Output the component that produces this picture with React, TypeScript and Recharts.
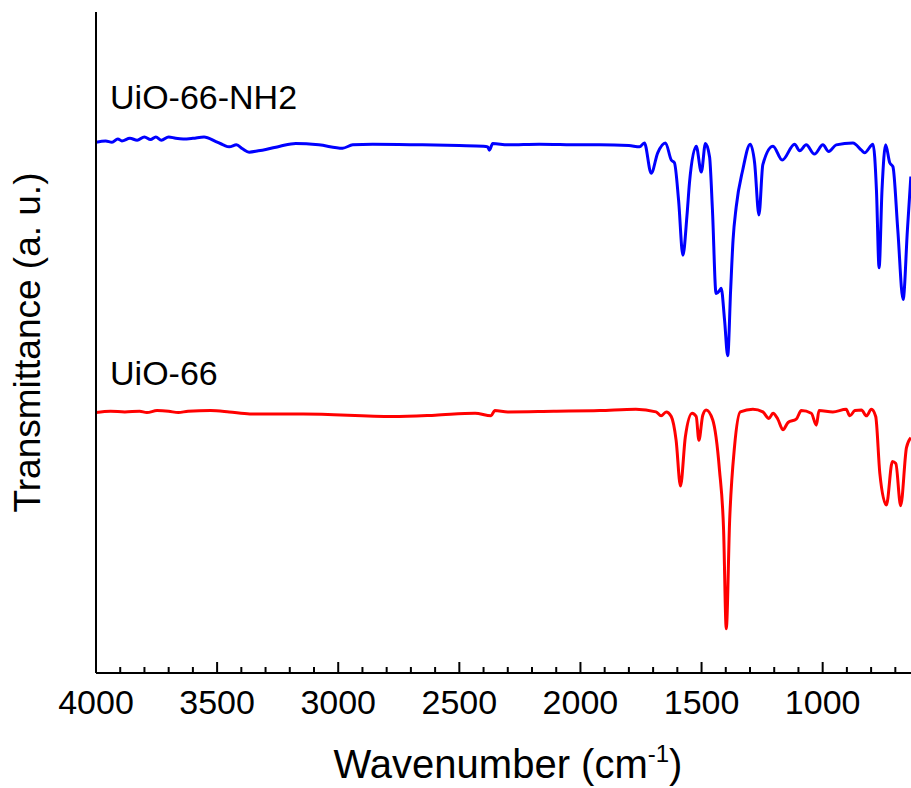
import React from "react";
import {
  LineChart,
  Line,
  XAxis,
  YAxis,
  ReferenceDot,
} from "recharts";

// FTIR spectra, wavenumber (cm-1) vs transmittance (arbitrary offset units)
const nh2Wavenumber = [
  4000, 3960, 3934, 3910, 3893, 3860, 3830, 3800, 3775, 3753, 3730, 3700, 3671,
  3640, 3600, 3554, 3505, 3475, 3450, 3420, 3395, 3368, 3330, 3299, 3240, 3175,
  3080, 2982, 2940, 2858, 2652, 2500, 2400, 2383, 2376, 2362, 2300, 2170, 2000,
  1921, 1800, 1756, 1736, 1708, 1681, 1649, 1625, 1612, 1595, 1577, 1560, 1550,
  1522, 1501, 1484, 1467, 1455, 1440, 1425, 1419, 1405, 1392, 1380, 1370, 1357,
  1330, 1299, 1281, 1263, 1247, 1205, 1167, 1116, 1095, 1068, 1034, 999, 975,
  944, 875, 840, 827, 792, 778, 767, 755, 740, 723, 710, 690, 668, 650, 636,
];
const nh2Transmittance = [
  80.3, 80.5, 80.3, 80.8, 80.5, 80.9, 80.6, 81.1, 80.7, 81.1, 80.6, 81.1, 80.9,
  80.8, 80.9, 81.1, 80.4, 79.9, 79.6, 79.9, 79.3, 78.8, 79.0, 79.2, 79.7, 80.1,
  79.9, 79.4, 79.9, 80.0, 79.9, 79.8, 79.7, 79.6, 79.1, 80.1, 79.9, 80.0, 79.9,
  79.9, 79.8, 79.6, 80.2, 75.6, 78.7, 80.2, 77.6, 77.2, 71.6, 63.2, 69.3, 74.1,
  79.7, 75.8, 80.1, 78.1, 70.0, 57.4, 57.9, 58.2, 53.4, 48.0, 57.9, 65.5, 70.5,
  76.1, 80.0, 77.2, 69.3, 76.9, 79.7, 77.6, 80.0, 79.0, 79.9, 78.5, 79.9, 78.9,
  79.9, 80.2, 79.1, 78.7, 80.0, 73.1, 61.3, 73.1, 79.9, 77.2, 76.6, 67.1, 56.5,
  67.1, 75.1,
];

const uioWavenumber = [
  4000, 3940, 3881, 3820, 3790, 3748, 3700, 3660, 3620, 3527, 3450, 3365, 3145,
  2775, 2600, 2435, 2369, 2354, 2300, 2111, 1921, 1771, 1688, 1667, 1646, 1625,
  1605, 1587, 1567, 1539, 1522, 1511, 1495, 1481, 1454, 1426, 1409, 1398, 1384,
  1364, 1340, 1288, 1247, 1222, 1205, 1185, 1164, 1143, 1109, 1088, 1047, 1026,
  1015, 958, 903, 888, 867, 840, 819, 799, 781, 764, 737, 712, 698, 678, 654, 636,
];
const uioTransmittance = [
  39.4, 39.6, 39.5, 39.6, 39.4, 39.7, 39.6, 39.4, 39.6, 39.7, 39.5, 39.2, 39.2,
  38.8, 39.0, 39.3, 38.9, 39.7, 39.5, 39.6, 39.7, 39.9, 39.5, 38.9, 39.5, 38.8,
  35.2, 28.3, 35.7, 39.3, 38.8, 35.2, 39.0, 39.8, 38.3, 30.7, 21.6, 6.7, 23.1,
  34.2, 39.5, 39.9, 39.5, 38.5, 39.3, 38.4, 36.8, 37.9, 38.4, 39.7, 39.3, 37.5,
  39.7, 39.5, 39.9, 38.9, 39.7, 39.8, 38.9, 39.9, 38.8, 30.2, 25.4, 32.0, 31.7,
  25.3, 34.1, 35.6,
];

// major every 500, minor every 100, down to the last one still in view
const xTicks = Array.from({ length: 34 }, (_, i) => 4000 - i * 100);

const nh2Data = nh2Wavenumber.map((wn, i) => ({ wn, t: nh2Transmittance[i] }));
const uioData = uioWavenumber.map((wn, i) => ({ wn, t: uioTransmittance[i] }));

const FONT = "Arial, 'Liberation Sans', Helvetica, sans-serif";

const WaveTick = (props: any) => {
  const { x, y, payload } = props;
  const major = payload.value % 500 === 0;
  return (
    <g>
      <line x1={x} x2={x} y1={y} y2={y - (major ? 11 : 6)} stroke="#000" strokeWidth={2} />
      {major && (
        <text x={x} y={y + 41} textAnchor="middle" fontSize={34} fontFamily={FONT} fill="#000">
          {payload.value}
        </text>
      )}
    </g>
  );
};

const XTitle = (props: any) => {
  const { viewBox } = props;
  return (
    <text x={viewBox.x + 412} y={viewBox.y + 105} textAnchor="middle" fontSize={40} fontFamily={FONT} fill="#000">
      Wavenumber (cm
      <tspan fontSize={24} dy={-16}>-1</tspan>
      <tspan dy={16}>)</tspan>
    </text>
  );
};

const YTitle = (props: any) => {
  const { viewBox } = props;
  const cx = viewBox.x + 27;
  const cy = viewBox.y + viewBox.height / 2;
  return (
    <text
      x={cx}
      y={cy}
      transform={`rotate(-90 ${cx} ${cy})`}
      textAnchor="middle"
      dominantBaseline="central"
      fontSize={37}
      fontFamily={FONT}
      fill="#000"
    >
      Transmittance (a. u.)
    </text>
  );
};

const seriesLabel = (text: string) => (props: any) => {
  const { viewBox } = props;
  return (
    <text x={viewBox.x} y={viewBox.y} fontSize={34} fontFamily={FONT} fill="#000">
      {text}
    </text>
  );
};

export default function App() {
  return (
    <div
      style={{
        position: "fixed",
        left: 0,
        top: 0,
        width: 911,
        height: 788,
        overflow: "hidden",
        background: "#fff",
      }}
    >
      <LineChart width={1000} height={788} margin={{ top: 12, right: 32, bottom: 0, left: 0 }}>
        <XAxis
          dataKey="wn"
          type="number"
          domain={[400, 4000]}
          reversed
          allowDataOverflow
          ticks={xTicks}
          interval={0}
          tick={<WaveTick />}
          tickLine={false}
          tickSize={0}
          tickMargin={0}
          height={115}
          axisLine={{ stroke: "#000", strokeWidth: 2 }}
          label={{ content: XTitle }}
        />
        <XAxis
          xAxisId="top"
          orientation="top"
          type="number"
          domain={[400, 4000]}
          reversed
          tick={false}
          tickLine={false}
          height={0}
          axisLine={{ stroke: "#000", strokeWidth: 2 }}
        />
        <YAxis
          type="number"
          domain={[0, 100]}
          width={96}
          tick={false}
          tickLine={false}
          axisLine={{ stroke: "#000", strokeWidth: 2 }}
          label={{ content: YTitle }}
        />
        <Line
          data={nh2Data}
          dataKey="t"
          type="monotone"
          stroke="#0000FF"
          strokeWidth={3}
          dot={false}
          isAnimationActive={false}
        />
        <Line
          data={uioData}
          dataKey="t"
          type="monotone"
          stroke="#FF0000"
          strokeWidth={3}
          dot={false}
          isAnimationActive={false}
        />
        <ReferenceDot x={3942} y={85.3} r={0} fill="none" stroke="none" label={{ content: seriesLabel("UiO-66-NH2") }} />
        <ReferenceDot x={3942} y={43.6} r={0} fill="none" stroke="none" label={{ content: seriesLabel("UiO-66") }} />
      </LineChart>
    </div>
  );
}
